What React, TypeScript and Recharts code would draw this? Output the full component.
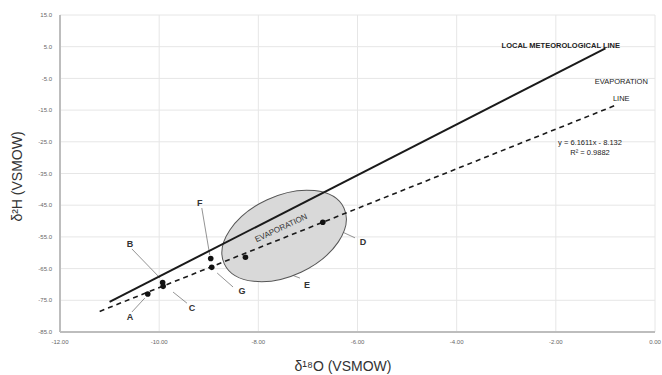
import React from "react";
import {
  ScatterChart,
  Scatter,
  XAxis,
  YAxis,
  CartesianGrid,
  ReferenceLine,
} from "recharts";

// axis ticks
const xTicks = [-12, -10, -8, -6, -4, -2, 0];
const yTicks = [15, 5, -5, -15, -25, -35, -45, -55, -65, -75, -85];

// sampled waters (δ18O, δ2H)
const samples = [
  { id: "A", x: -10.23, y: -73.0 },
  { id: "B", x: -9.93, y: -69.4 },
  { id: "C", x: -9.92, y: -70.6 },
  { id: "F", x: -8.96, y: -61.8 },
  { id: "G", x: -8.94, y: -64.6 },
  { id: "E", x: -8.26, y: -61.4 },
  { id: "D", x: -6.7, y: -50.4 },
];

// local meteoric water line and evaporation trend
const meteoricLine = [
  { x: -11.0, y: -75.5 },
  { x: -1.0, y: 4.5 },
];
const evaporationLine = [
  { x: -11.2, y: -78.5 },
  { x: -0.75, y: -13.2 },
];

// sample labels and their leader lines
const sampleLabels = [
  { text: "A", x: -10.59, y: -80.3 },
  { text: "B", x: -10.59, y: -57.2 },
  { text: "C", x: -9.34, y: -77.4 },
  { text: "F", x: -9.18, y: -44.3 },
  { text: "G", x: -8.33, y: -72.1 },
  { text: "E", x: -7.02, y: -70.2 },
  { text: "D", x: -5.89, y: -56.6 },
];
const leaders = [
  { id: "A", x1: -10.55, y1: -78.7, x2: -10.29, y2: -74.3 },
  { id: "B", x1: -10.55, y1: -58.8, x2: -9.98, y2: -68.0 },
  { id: "C", x1: -9.72, y1: -72.4, x2: -9.44, y2: -75.9 },
  { id: "F", x1: -9.14, y1: -45.9, x2: -8.98, y2: -60.7 },
  { id: "G", x1: -8.83, y1: -66.4, x2: -8.51, y2: -70.8 },
  { id: "E", x1: -8.11, y1: -62.3, x2: -7.16, y2: -68.0 },
  { id: "D", x1: -6.56, y1: -51.6, x2: -6.05, y2: -55.3 },
];

// free text
const notes = [
  { text: "LOCAL METEOROLOGICAL LINE", x: -1.9, y: 5.5, bold: true },
  { text: "EVAPORATION", x: -0.68, y: -6.1, bold: false },
  { text: "LINE", x: -0.68, y: -11.3, bold: false },
  { text: "y = 6.1611x - 8.132", x: -1.31, y: -25.3, bold: false },
  { text: "R² = 0.9882", x: -1.31, y: -28.4, bold: false },
];

const evaporationZone = [{ x: -7.48, y: -54.7 }];
const zoneLabel = [{ text: "EVAPORATION", x: -7.54, y: -52.2 }];

const FONT = "'Liberation Sans', Arial, sans-serif";

const NoMark = () => <g />;

const Dot = (p: any) => <circle cx={p.cx} cy={p.cy} r={2.8} fill="#111" />;

const Zone = (p: any) => (
  <ellipse
    cx={p.cx}
    cy={p.cy}
    rx={66}
    ry={40}
    transform={`rotate(-25 ${p.cx} ${p.cy})`}
    fill="#d9d9d9"
    stroke="#555"
    strokeWidth={1}
  />
);

const ZoneText = (p: any) => (
  <text
    x={p.cx}
    y={p.cy}
    textAnchor="middle"
    dominantBaseline="central"
    transform={`rotate(-25 ${p.cx} ${p.cy})`}
    fontSize={8}
    fill="#333"
    fontFamily={FONT}
  >
    {p.payload.text}
  </text>
);

const LetterText = (p: any) => (
  <text
    x={p.cx}
    y={p.cy}
    textAnchor="middle"
    dominantBaseline="central"
    fontSize={9}
    fontWeight="bold"
    fill="#333"
    fontFamily={FONT}
  >
    {p.payload.text}
  </text>
);

const NoteText = (p: any) => (
  <text
    x={p.cx}
    y={p.cy}
    textAnchor="middle"
    dominantBaseline="central"
    fontSize={7.5}
    fontWeight={p.payload.bold ? "bold" : "normal"}
    fill="#222"
    fontFamily={FONT}
  >
    {p.payload.text}
  </text>
);

export default function App() {
  const tick = { fontSize: 6, fill: "#666", fontFamily: FONT };

  return (
    <div style={{ position: "absolute", left: 0, top: 0, background: "#fff" }}>
      <ScatterChart
        width={662}
        height={375}
        margin={{ top: 15, right: 7, bottom: 0, left: 0 }}
        style={{ fontFamily: FONT }}
      >
        <CartesianGrid stroke="#e6e6e6" />
        <XAxis
          type="number"
          dataKey="x"
          domain={[-12, 0]}
          ticks={xTicks}
          tickFormatter={(v: number) => v.toFixed(2)}
          tick={tick}
          tickLine={false}
          axisLine={{ stroke: "#bdbdbd", strokeWidth: 2 }}
          height={43}
          allowDataOverflow
          label={{
            content: (props: any) => {
              const vb = props.viewBox || { y: 332, height: 43 };
              return (
                <text
                  x={343}
                  y={vb.y + vb.height - 4}
                  textAnchor="middle"
                  fontSize={14}
                  fill="#333"
                  fontFamily={FONT}
                >
                  δ¹⁸O (VSMOW)
                </text>
              );
            },
          }}
        />
        <YAxis
          type="number"
          dataKey="y"
          domain={[-85, 15]}
          ticks={yTicks}
          tickFormatter={(v: number) => v.toFixed(1)}
          tick={tick}
          tickLine={false}
          axisLine={{ stroke: "#bdbdbd", strokeWidth: 2 }}
          width={60}
          allowDataOverflow
          label={{
            content: (props: any) => {
              const vb = props.viewBox || { x: 0, y: 15, height: 317 };
              const cx = 17;
              const cy = vb.y + vb.height / 2 + 3;
              return (
                <text
                  x={cx}
                  y={cy}
                  textAnchor="middle"
                  dominantBaseline="central"
                  transform={`rotate(-90 ${cx} ${cy})`}
                  fontSize={14}
                  fill="#333"
                  fontFamily={FONT}
                >
                  δ²H (VSMOW)
                </text>
              );
            },
          }}
        />
        <Scatter
          data={evaporationZone}
          shape={Zone}
          isAnimationActive={false}
        />
        <Scatter
          data={meteoricLine}
          line={{ stroke: "#1a1a1a", strokeWidth: 2 }}
          shape={NoMark}
          isAnimationActive={false}
        />
        <Scatter
          data={evaporationLine}
          line={{ stroke: "#1a1a1a", strokeWidth: 1.6, strokeDasharray: "5 4" }}
          shape={NoMark}
          isAnimationActive={false}
        />
        {leaders.map((l) => (
          <ReferenceLine
            key={l.id}
            segment={[
              { x: l.x1, y: l.y1 },
              { x: l.x2, y: l.y2 },
            ]}
            stroke="#777"
            strokeWidth={0.8}
            ifOverflow="visible"
          />
        ))}
        <Scatter data={samples} shape={Dot} isAnimationActive={false} />
        <Scatter data={zoneLabel} shape={ZoneText} isAnimationActive={false} />
        <Scatter
          data={sampleLabels}
          shape={LetterText}
          isAnimationActive={false}
        />
        <Scatter data={notes} shape={NoteText} isAnimationActive={false} />
      </ScatterChart>
    </div>
  );
}
